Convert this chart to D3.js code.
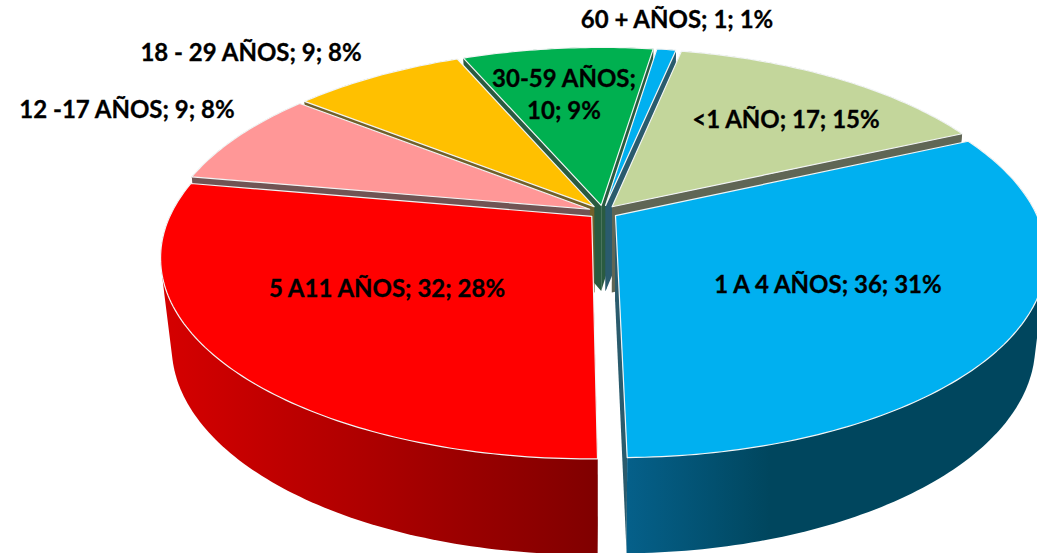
<!DOCTYPE html>
<html>
<head>
<meta charset="utf-8">
<script src="https://cdn.jsdelivr.net/npm/d3@7"></script>
<style>
  html, body { margin: 0; background: #fff; overflow: hidden; }
  text { font-family: Lato, "Open Sans", sans-serif; font-weight: 700; fill: #000; stroke: #000; stroke-width: 0.3px; }
</style>
</head>
<body>
<svg id="chart" width="1037" height="553"></svg>
<script>
const categories = ["<1 AÑO", "1 A 4 AÑOS", "5 A11 AÑOS", "12 -17 AÑOS", "18 - 29 AÑOS", "30-59 AÑOS", "60 + AÑOS"];
const values = [17, 36, 32, 9, 9, 10, 1];
const percents = [15, 31, 28, 8, 8, 9, 1];
const colors = ["#c3d69b", "#00b0f0", "#ff0000", "#ff9797", "#ffc000", "#00b050", "#00b0f0"];
// wall shading left to right, only the two big slices show any wall
const wallColors = {
  1: [[0, "#05608a"], [0.35, "#00465e"], [1, "#00465e"]],
  2: [[0, "#d40000"], [1, "#800000"]]
};
// label centres, second line of the green slice hangs under the first
const labelAt = [[786, 120], [828, 285], [387, 289], [127, 110], [251, 53], [564, 79], [677, 20]];

const width = 1037, height = 553;
const cx = 603, cy = 212;      // pie centre on screen
const rx = 420, ry = 192;      // radius scale on each axis
const persp = 0.2;             // front gets bigger, back gets smaller
const depth = 86;              // wall height at the centre
const depthPersp = 0.1;
const lowShrink = 0.975;       // bottom rim is a bit narrower than the top
const explode = 0.035;
const startDeg = 11.7;

const svg = d3.select("#chart");
const defs = svg.append("defs");

const pie = d3.pie()
  .sort(null)
  .value((d) => d)
  .startAngle(startDeg * Math.PI / 180)
  .endAngle(startDeg * Math.PI / 180 + 2 * Math.PI);

const xScale = d3.scaleLinear().domain([-1, 1]).range([-rx, rx]);
const yScale = d3.scaleLinear().domain([-1, 1]).range([-ry, ry]);

// gx, gy are on the ground plane, gy grows towards the viewer
const project = (gx, gy, low) => {
  const w = 1 - persp * gy;
  const sx = xScale(gx) / w;
  const sy = yScale(gy) / w;
  if (!low) return [cx + sx, cy + sy];
  return [cx + sx * lowShrink, cy + sy + depth / (1 - depthPersp * gy)];
};

const slices = pie(values).map((d, i) => {
  const mid = (d.startAngle + d.endAngle) / 2;
  return {
    i,
    start: d.startAngle,
    end: d.endAngle,
    mid,
    ox: explode * Math.sin(mid),
    oy: -explode * Math.cos(mid)
  };
});

const point = (s, a, r, low) =>
  project(s.ox + r * Math.sin(a), s.oy - r * Math.cos(a), low);

const rim = (s, low) => {
  const n = Math.max(4, Math.ceil((s.end - s.start) * 60));
  return d3.range(n + 1).map((k) => point(s, s.start + (s.end - s.start) * k / n, 1, low));
};

const line = d3.line().curve(d3.curveLinear);

// gradients for the outer walls
Object.keys(wallColors).forEach((k) => {
  const xs = rim(slices[k], true).map((p) => p[0]);
  const g = defs.append("linearGradient")
    .attr("id", "wall" + k)
    .attr("gradientUnits", "userSpaceOnUse")
    .attr("x1", d3.min(xs)).attr("y1", 0)
    .attr("x2", d3.max(xs)).attr("y2", 0);
  wallColors[k].forEach((st) => {
    g.append("stop").attr("offset", st[0]).attr("stop-color", st[1]);
  });
});

// back to front
const order = slices.slice().sort((a, b) => d3.descending(Math.cos(a.mid), Math.cos(b.mid)));

const dark = (c) => d3.interpolateRgb(c, "#3a3a3a")(0.72);

order.forEach((s) => {
  const g = svg.append("g");
  const face = dark(colors[s.i]);

  // the two cut faces
  [s.start, s.end].forEach((a) => {
    g.append("path")
      .attr("d", line([
        point(s, a, 0, false), point(s, a, 1, false),
        point(s, a, 1, true), point(s, a, 0, true)
      ]) + "Z")
      .attr("fill", face);
  });

  // outer wall, the hull closes the tangent between top and bottom rims
  const top = rim(s, false), low = rim(s, true);
  g.append("path")
    .attr("d", line(d3.polygonHull(top.concat(low))) + "Z")
    .attr("fill", wallColors[s.i] ? `url(#wall${s.i})` : face);

  // top
  g.append("path")
    .attr("d", line([point(s, 0, 0, false)].concat(top)) + "Z")
    .attr("fill", colors[s.i])
    .attr("stroke", "#f2f5f5")
    .attr("stroke-width", 1.2)
    .attr("stroke-linejoin", "round");
});

// labels
const fontSize = 24;
categories.forEach((c, i) => {
  const lines = i === 5
    ? [`${c};`, `${values[i]}; ${percents[i]}%`]
    : [`${c}; ${values[i]}; ${percents[i]}%`];
  lines.forEach((t, j) => {
    svg.append("text")
      .attr("x", labelAt[i][0])
      .attr("y", labelAt[i][1] + j * 32)
      .attr("dy", "0.35em")
      .attr("text-anchor", "middle")
      .style("font-size", fontSize + "px")
      .text(t);
  });
});
</script>
</body>
</html>
